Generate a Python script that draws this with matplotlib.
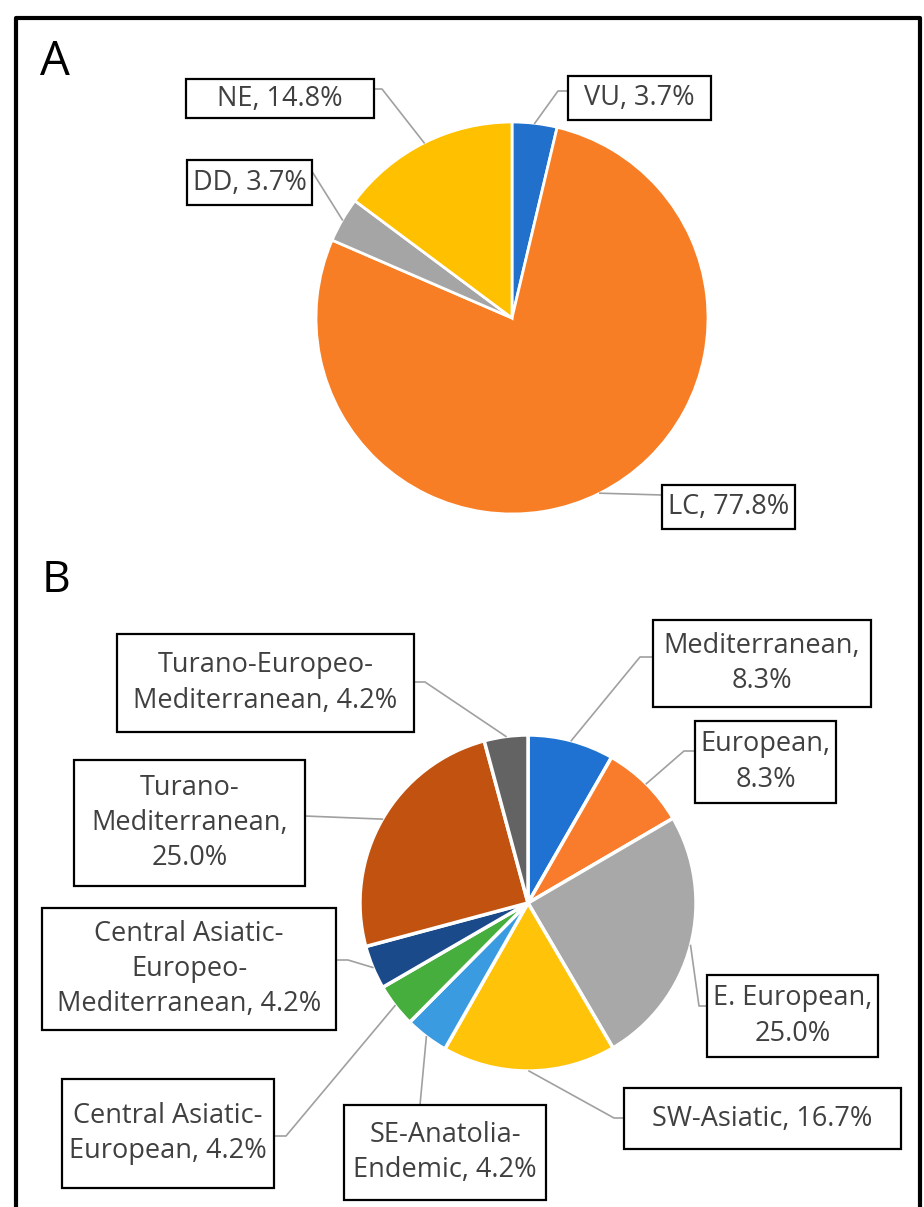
import numpy as np
import matplotlib
matplotlib.use("Agg")
import matplotlib.pyplot as plt
from matplotlib.patches import Rectangle

W, H = 924, 1207

# %% data - panel A (IUCN categories)
a_cats = ["VU", "LC", "DD", "NE"]
a_pcts = [3.7, 77.8, 3.7, 14.8]
a_colors = ["#2171CC", "#F77E25", "#A5A5A5", "#FFC000"]

# %% data - panel B (chorotypes)
b_cats = [
    "Mediterranean,\n{}",
    "European,\n{}",
    "E. European,\n{}",
    "SW-Asiatic, {}",
    "SE-Anatolia-\nEndemic, {}",
    "Central Asiatic-\nEuropean, {}",
    "Central Asiatic-\nEuropeo-\nMediterranean, {}",
    "Turano-\nMediterranean,\n{}",
    "Turano-Europeo-\nMediterranean, {}",
]
b_pcts = [8.3, 8.3, 25.0, 16.7, 4.2, 4.2, 4.2, 25.0, 4.2]
b_colors = ["#1F72D1", "#F97B2C", "#A8A8A8", "#FFC30A", "#3A9BE0",
            "#46AE3C", "#1B4A8A", "#C2520F", "#636363"]

# label boxes (x0, y0, x1, y1 in image px) and leader knee / attach points
a_boxes = [(568, 76, 711, 120), (662, 485, 795, 529), (187, 160, 312, 205), (186, 79, 374, 118)]
a_knees = [[(558, 91), (568, 91)], [(662, 495)], [(313, 173)], [(382, 89), (374, 89)]]

b_boxes = [(653, 620, 871, 707), (695, 721, 836, 803), (707, 975, 878, 1057),
           (624, 1088, 901, 1149), (344, 1105, 546, 1200), (62, 1079, 274, 1188),
           (42, 908, 336, 1030), (74, 760, 305, 886), (117, 634, 414, 732)]
b_knees = [[(640, 657), (653, 657)], [(684, 751), (695, 751)], [(699, 1006), (707, 1006)],
           [(614, 1118), (624, 1118)], [(420, 1105)], [(286, 1136), (274, 1136)],
           [(348, 960), (336, 960)], [(305, 816)], [(425, 682), (414, 682)]]


def fy(y):
    return H - y


fig = plt.figure(figsize=(W / 100, H / 100), dpi=100)
ax = fig.add_axes([0, 0, 1, 1])

FONT = "Open Sans"
TXT = "#404040"
LEAD = "#A0A0A0"


def draw_pie(pcts, colors, center, radius, explode, texts, boxes, knees, fs, ls, ew):
    wedges, _ = ax.pie(pcts, colors=colors, startangle=90, counterclock=False,
                       center=(center[0], fy(center[1])), radius=radius, explode=explode,
                       wedgeprops=dict(edgecolor="white", linewidth=ew))
    for w, txt, box, kn in zip(wedges, texts, boxes, knees):
        mid = np.deg2rad((w.theta1 + w.theta2) / 2)
        cx, cy = w.center
        px, py = cx + w.r * np.cos(mid), cy + w.r * np.sin(mid)
        xs = [px] + [k[0] for k in kn]
        ys = [py] + [fy(k[1]) for k in kn]
        ax.plot(xs, ys, color=LEAD, lw=1.2, zorder=3)
        x0, y0, x1, y1 = box
        ax.add_patch(Rectangle((x0, fy(y1)), x1 - x0, y1 - y0, facecolor="white",
                               edgecolor="black", lw=1.6, zorder=4))
        ax.text((x0 + x1) / 2, fy((y0 + y1) / 2), txt, ha="center", va="center",
                multialignment="center", fontsize=fs, family=FONT, color=TXT,
                linespacing=ls, zorder=5)


a_texts = [f"{c}, {p:.1f}%" for c, p in zip(a_cats, a_pcts)]
draw_pie(a_pcts, a_colors, (512, 318), 196, [0.02, 0, 0, 0],
         a_texts, a_boxes, a_knees, 19.5, 1.2, 2)

b_texts = [c.format(f"{p:.1f}%") for c, p in zip(b_cats, b_pcts)]
draw_pie(b_pcts, b_colors, (528, 903), 168, [0.04] * 9,
         b_texts, b_boxes, b_knees, 19.5, 1.35, 2.5)

ax.text(40, fy(62), "A", fontsize=34, family=FONT, color="black", ha="left", va="center")
ax.text(42, fy(581), "B", fontsize=32, family=FONT, color="black", ha="left", va="center")

# frame around both panels
ax.plot([16, 16, 920, 920], [0, fy(18), fy(18), 0], color="black", lw=3, zorder=6)

ax.set_xlim(0, W)
ax.set_ylim(0, H)
ax.set_aspect("auto")
ax.axis("off")

fig.savefig("out.png", dpi=100, facecolor="white")
